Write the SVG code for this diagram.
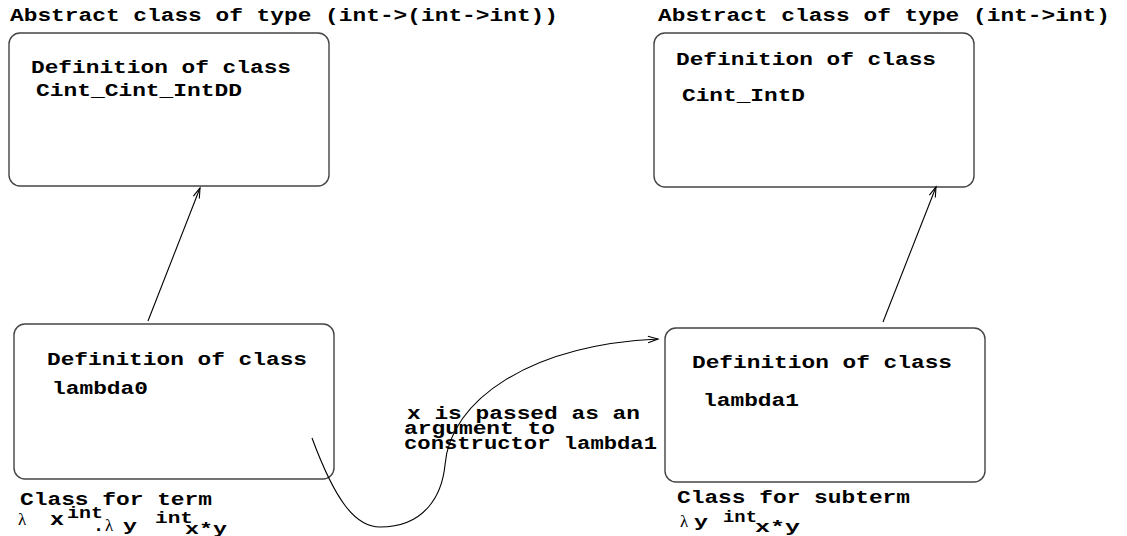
<svg xmlns="http://www.w3.org/2000/svg" width="1127" height="536" viewBox="0 0 1127 536">
  <defs>
    <style>
      .box { fill: #fff; stroke: #444; stroke-width: 1.4; }
      .t { font-family: "Liberation Mono", "DejaVu Sans Mono", monospace; font-weight: bold; font-size: 18.5px; fill: #000; }
      .s { font-family: "Liberation Mono", "DejaVu Sans Mono", monospace; font-weight: bold; font-size: 16px; fill: #000; }
      .sym { font-family: "Liberation Serif", "DejaVu Serif", serif; font-size: 17px; fill: #000; }
      .edge { fill: none; stroke: #000; stroke-width: 1.1; }
    </style>
    <marker id="open" markerUnits="userSpaceOnUse" markerWidth="14" markerHeight="10" viewBox="-12 -5 14 10" refX="0" refY="0" orient="auto">
      <path d="M-10,-3.2 L0,0 L-10,3.2" fill="none" stroke="#000" stroke-width="1.1"/>
    </marker>
  </defs>

  <rect width="1127" height="536" fill="#fff"/>

  <!-- type headings -->
  <text class="t" x="10" y="21" textLength="548" lengthAdjust="spacingAndGlyphs">Abstract class of type (int-&gt;(int-&gt;int))</text>
  <text class="t" x="658" y="21" textLength="452" lengthAdjust="spacingAndGlyphs">Abstract class of type (int-&gt;int)</text>

  <g id="cint_cint_intdd">
    <rect class="box" x="9" y="33" width="320" height="153" rx="11"/>
    <text class="t" x="31" y="73" textLength="260" lengthAdjust="spacingAndGlyphs">Definition of class</text>
    <text class="t" x="36" y="96" textLength="206" lengthAdjust="spacingAndGlyphs">Cint_Cint_IntDD</text>
  </g>

  <g id="cint_intd">
    <rect class="box" x="654" y="33" width="320" height="154" rx="11"/>
    <text class="t" x="676" y="65" textLength="260" lengthAdjust="spacingAndGlyphs">Definition of class</text>
    <text class="t" x="682" y="101" textLength="123" lengthAdjust="spacingAndGlyphs">Cint_IntD</text>
  </g>

  <g id="lambda0">
    <rect class="box" x="14" y="324" width="320" height="155" rx="11"/>
    <text class="t" x="47" y="365" textLength="260" lengthAdjust="spacingAndGlyphs">Definition of class</text>
    <text class="t" x="52" y="394" textLength="96" lengthAdjust="spacingAndGlyphs">lambda0</text>
    <text class="t" x="20" y="505" textLength="192" lengthAdjust="spacingAndGlyphs">Class for term</text>
    <text class="sym" x="18" y="525">λ</text>
    <text class="t" x="50" y="525" textLength="14" lengthAdjust="spacingAndGlyphs">x</text>
    <text class="s" x="67" y="518" textLength="36" lengthAdjust="spacingAndGlyphs">int</text>
    <text class="t" x="93" y="531">.</text>
    <text class="sym" x="105" y="531" font-size="15">λ</text>
    <text class="s" x="123" y="531" textLength="14" lengthAdjust="spacingAndGlyphs">y</text>
    <text class="s" x="155" y="523" textLength="38" lengthAdjust="spacingAndGlyphs">int</text>
    <text class="s" x="185" y="534" textLength="42" lengthAdjust="spacingAndGlyphs">x*y</text>
  </g>

  <g id="lambda1">
    <rect class="box" x="665" y="328" width="320" height="154" rx="11"/>
    <text class="t" x="692" y="368" textLength="260" lengthAdjust="spacingAndGlyphs">Definition of class</text>
    <text class="t" x="703" y="406" textLength="96" lengthAdjust="spacingAndGlyphs">lambda1</text>
    <text class="t" x="677" y="503" textLength="233" lengthAdjust="spacingAndGlyphs">Class for subterm</text>
    <text class="sym" x="680" y="527" font-size="15">λ</text>
    <text class="s" x="694" y="527" textLength="14" lengthAdjust="spacingAndGlyphs">y</text>
    <text class="s" x="723" y="522" textLength="34" lengthAdjust="spacingAndGlyphs">int</text>
    <text class="s" x="755" y="532" textLength="45" lengthAdjust="spacingAndGlyphs">x*y</text>
  </g>

  <g id="connectors">
    <line class="edge" x1="148" y1="321" x2="200" y2="188" marker-end="url(#open)"/>
    <line class="edge" x1="883" y1="322" x2="936" y2="187" marker-end="url(#open)"/>
    <path class="edge" d="M312,438 C335,500 355,527 380,527 C425,527 442,495 445,465 C450,400 530,345 658,339" marker-end="url(#open)"/>
    <text class="t" x="407" y="419" textLength="233" lengthAdjust="spacingAndGlyphs">x is passed as an</text>
    <text class="t" x="404" y="434" textLength="151" lengthAdjust="spacingAndGlyphs">argument to</text>
    <text class="t" x="404" y="449" textLength="253" lengthAdjust="spacingAndGlyphs">constructor lambda1</text>
  </g>
</svg>
